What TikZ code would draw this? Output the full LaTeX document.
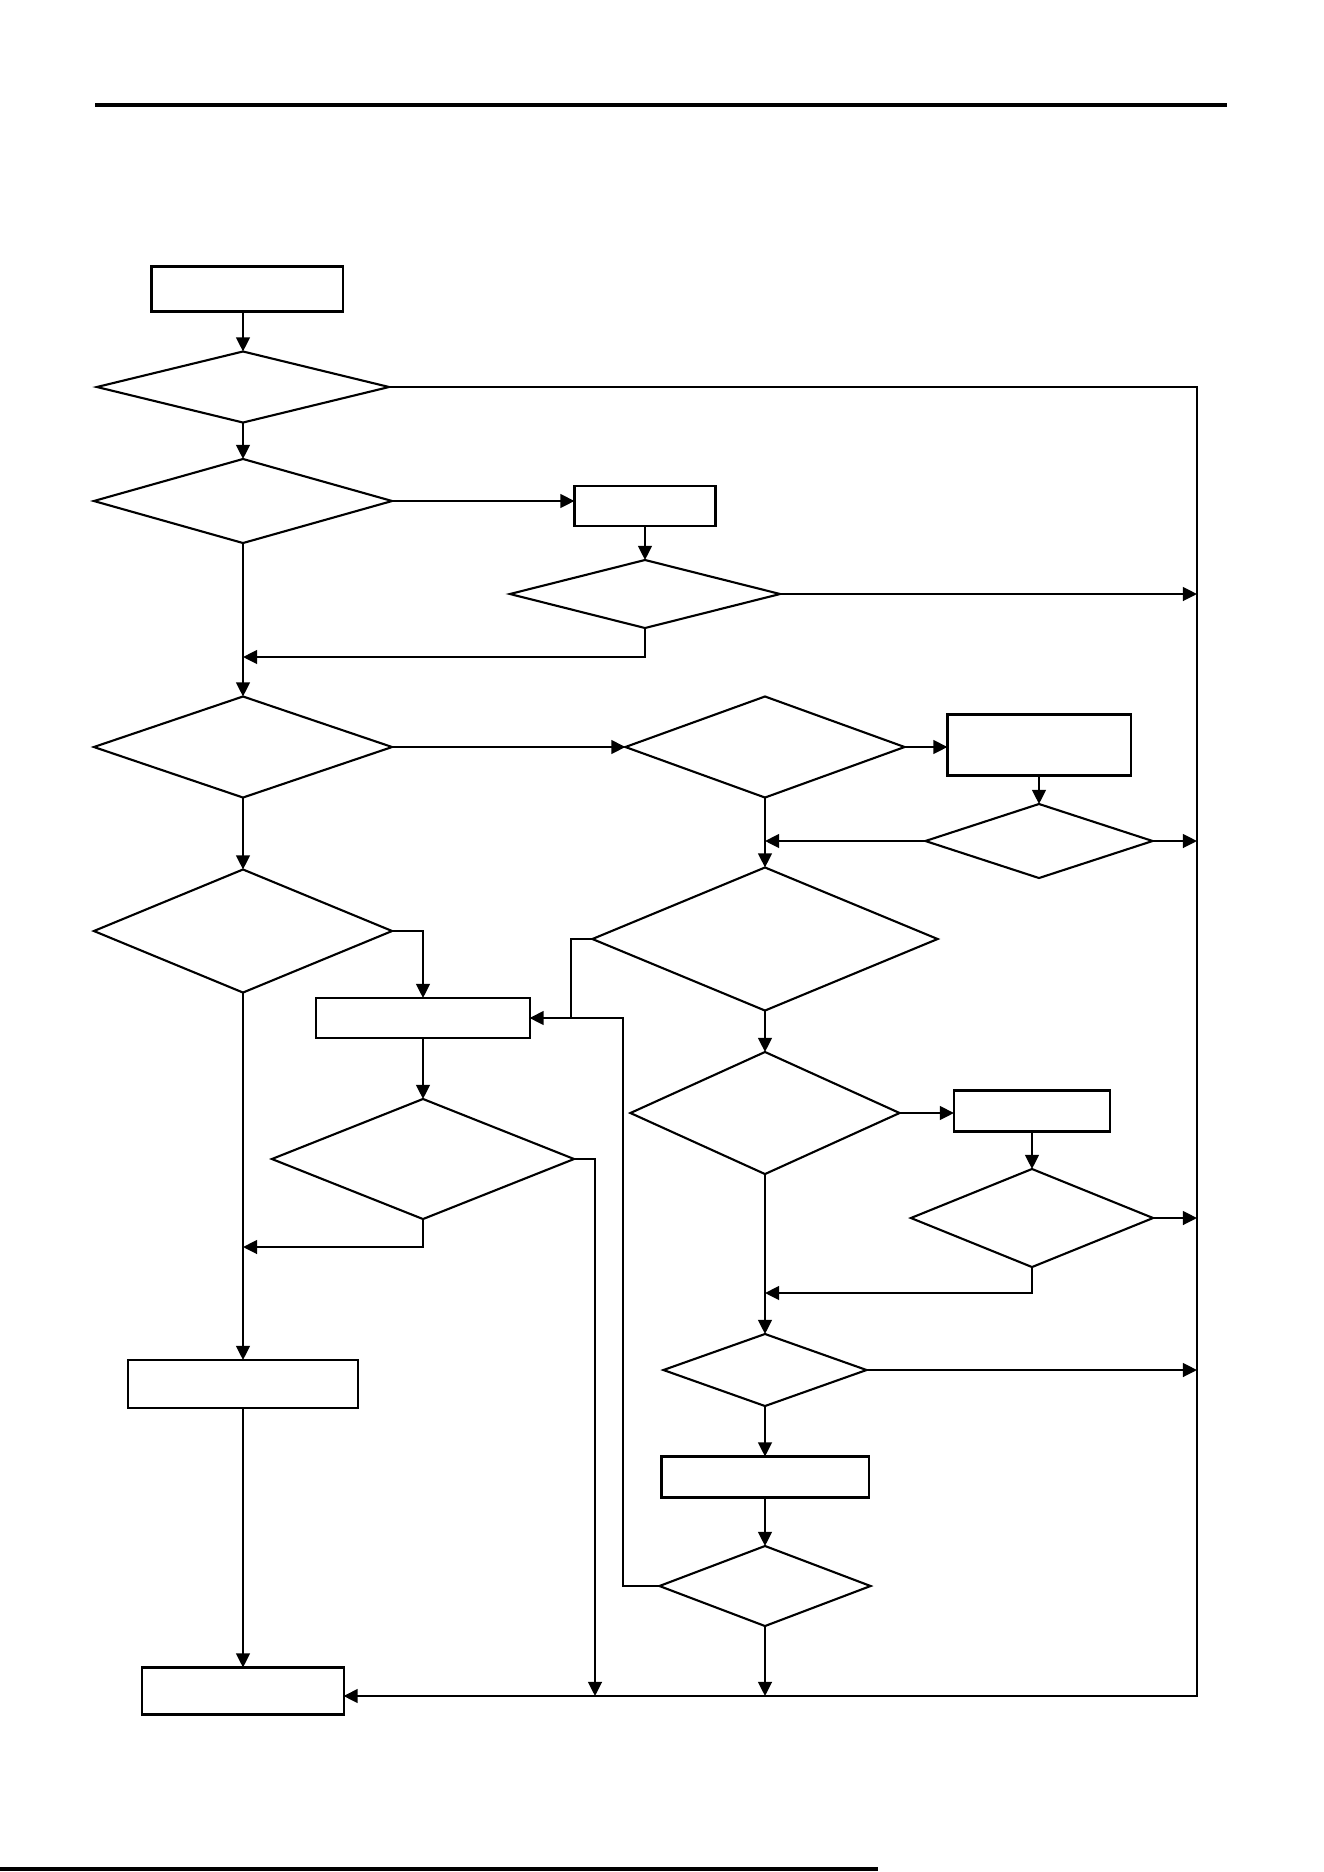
\documentclass[tikz,border=0pt]{standalone}
\usepackage{tikz}
\usetikzlibrary{shapes.geometric, arrows.meta, positioning, calc}
\tikzset{
  box/.style 2 args={rectangle, draw=black, line width=0.6pt, minimum width=#1,
              minimum height=#2, inner sep=0pt, outer sep=0pt},
  decision/.style 2 args={diamond, draw=black, line width=0.6pt, minimum width=#1,
              minimum height=#2, inner sep=0pt, outer sep=0pt},
  arrow/.style={-{Triangle[length=4pt, width=3.9pt]}, line width=0.6pt, color=black},
  line/.style={line width=0.6pt, color=black},
  headline/.style={line width=0.9pt, color=black},
}

\begin{document}
\begin{tikzpicture}[x=0.01cm, y=-0.01cm]
  \useasboundingbox (0,0) rectangle (1324,1872);

  % page rules
  \draw[headline] (95,105) -- (1227,105);
  \draw[headline] (0,1869) -- (878,1869);

  % left column
  \node[box={1.91cm}{0.45cm}] (b1) at (247,289) {};
  \node[decision={2.92cm}{0.71cm}] (d1) at (243,387) {};
  \node[decision={2.98cm}{0.84cm}] (d2) at (243,501) {};
  \node[decision={2.98cm}{1.01cm}] (d4) at (243,747) {};
  \node[decision={2.98cm}{1.23cm}] (d8) at (243,931) {};
  \node[box={2.30cm}{0.48cm}] (b5) at (243,1384) {};
  \node[box={2.01cm}{0.47cm}] (b6) at (243,1691) {};

  % upper branch
  \node[box={1.41cm}{0.40cm}] (b2) at (645,506) {};
  \node[decision={2.70cm}{0.68cm}] (d3) at (645,594) {};

  % middle column
  \node[decision={2.79cm}{1.01cm}] (d5) at (765,747) {};
  \node[decision={3.45cm}{1.43cm}] (d7) at (765,939) {};
  \node[decision={2.69cm}{1.22cm}] (d10) at (765,1113) {};
  \node[decision={2.03cm}{0.72cm}] (d12) at (765,1370) {};
  \node[box={2.07cm}{0.41cm}] (b8) at (765,1477) {};
  \node[decision={2.11cm}{0.80cm}] (d13) at (765,1586) {};

  % right column
  \node[box={1.83cm}{0.61cm}] (b3) at (1039,745) {};
  \node[decision={2.27cm}{0.74cm}] (d6) at (1039,841) {};
  \node[box={1.56cm}{0.41cm}] (b7) at (1032,1111) {};
  \node[decision={2.42cm}{0.98cm}] (d11) at (1032,1218) {};

  % inner loop
  \node[box={2.13cm}{0.40cm}] (b4) at (423,1018) {};
  \node[decision={3.02cm}{1.20cm}] (d9) at (423,1159) {};

  % bends and joins
  \coordinate (rtop) at (1197,387);
  \coordinate (rbot) at (1197,1696);
  \coordinate (j1) at (243,657);
  \coordinate (j2) at (571,1018);
  \coordinate (j3) at (623,1018);
  \coordinate (j4) at (595,1696);
  \coordinate (j5) at (243,1247);
  \coordinate (j6) at (765,1293);

  \draw[arrow] (b1.south -| d1.north) -- (d1.north);
  \draw[arrow] (d1.east) -- (rtop) -- (rbot) -- (rbot -| b6.east);
  \draw[arrow] (d1) -- (d2);
  \draw[arrow] (d2.east) -- (d2.east -| b2.west);
  \draw[arrow] (b2) -- (d3);
  \draw[arrow] (d3.east) -- (d3.east -| rtop);
  \draw[arrow] (d3.south) |- (j1);
  \draw[arrow] (d2) -- (d4);
  \draw[arrow] (d4) -- (d5);
  \draw[arrow] (d5.east) -- (d5.east -| b3.west);
  \draw[arrow] (b3) -- (d6);
  \draw[arrow] (d6.west) -- (d6.west -| d5.south);
  \draw[arrow] (d6.east) -- (d6.east -| rtop);
  \draw[arrow] (d5) -- (d7);
  \draw[line] (d7.west) -| (j2);
  \draw[arrow] (d4) -- (d8);
  \draw[arrow] (d8.east) -| (b4.north);
  \draw[arrow] (b4) -- (d9);
  \draw[arrow] (d9.east) -| (j4);
  \draw[arrow] (d9.south) |- (j5);
  \draw[arrow] (d8) -- (b5);
  \draw[arrow] (b5) -- (b6);
  \draw[arrow] (d7) -- (d10);
  \draw[arrow] (d10.east) -- (d10.east -| b7.west);
  \draw[arrow] (b7) -- (d11);
  \draw[arrow] (d11.east) -- (d11.east -| rtop);
  \draw[arrow] (d11.south) |- (j6);
  \draw[arrow] (d10) -- (d12);
  \draw[arrow] (d12.east) -- (d12.east -| rtop);
  \draw[arrow] (d12) -- (b8);
  \draw[arrow] (b8) -- (d13);
  \draw[arrow] (d13.west) -| (j3) -- (j3 -| b4.east);
  \draw[arrow] (d13.south) -- (d13.south |- rbot);
\end{tikzpicture}
\end{document}
